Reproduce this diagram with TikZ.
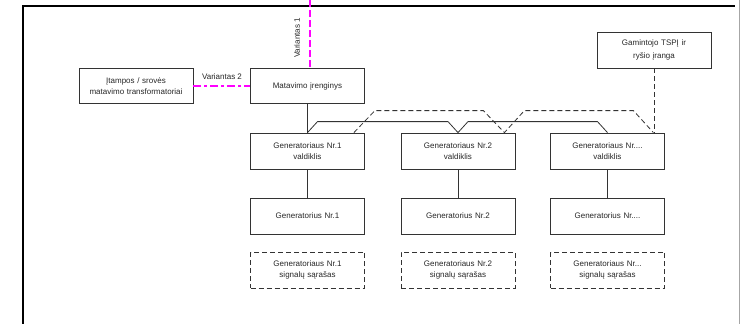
\documentclass[tikz,border=0pt]{standalone}
\usepackage{fontspec}
\setmainfont{Liberation Sans}
\usetikzlibrary{calc}
\definecolor{ln}{HTML}{333333}
\definecolor{mag}{HTML}{FF00FF}
\tikzset{
  box/.style={draw=ln, line width=0.8pt, rectangle, minimum width=114pt, minimum height=36pt, inner sep=0pt, text width=110pt, align=center, font=\fontsize{8}{11}\selectfont, text=black!85},
  dbox/.style={box, dash pattern=on 5pt off 3pt},
  conn/.style={draw=ln, line width=0.8pt},
  dconn/.style={conn, dash pattern=on 5pt off 3pt},
  lbl/.style={font=\fontsize{8}{11}\selectfont, text=black!85, inner sep=0pt},
  magline/.style={draw=mag, line width=1.3pt},
}
\begin{document}
\begin{tikzpicture}[x=1pt,y=-1pt]
\useasboundingbox (0,0) rectangle (740,324);
% frame
\draw[black, line width=1.2pt] (23,324) -- (23,6) -- (735,6);
\draw[black!35, line width=1pt] (739,0) -- (739,324);
% nodes
\node[box, minimum height=35pt] (it) at (136,86) {Įtampos / srovės\\matavimo transformatoriai};
\node[box, minimum height=35pt] (mt) at (307.5,86) {Matavimo įrenginys};
\node[box, font=\fontsize{8}{13.5}\selectfont] (gm) at (654,50) {Gamintojo TSPĮ ir\\ryšio įranga};
\node[box] (c1) at (307.5,151) {Generatoriaus Nr.1\\valdiklis};
\node[box] (c2) at (458,151) {Generatoriaus Nr.2\\valdiklis};
\node[box] (c3) at (607.5,151) {Generatoriaus Nr....\\valdiklis};
\node[box] (g1) at (307.5,216) {Generatorius Nr.1};
\node[box] (g2) at (458,216) {Generatorius Nr.2};
\node[box] (g3) at (607.5,216) {Generatorius Nr....};
\node[dbox] (s1) at (307.5,270) {Generatoriaus Nr.1\\signalų sąrašas};
\node[dbox] (s2) at (458,270) {Generatoriaus Nr.2\\signalų sąrašas};
\node[dbox] (s3) at (607.5,270) {Generatoriaus Nr...\\signalų sąrašas};
% magenta variants
\coordinate (topv) at (310,0);
\draw[magline, dash pattern=on 7pt off 3pt] (topv) -- (mt.north -| topv);
\node[lbl, rotate=90] (v1) at (297,38) {Variantas 1};
\draw[magline, dash pattern=on 8pt off 3pt on 3pt off 3pt] (it.east) -- (mt.west);
\node[lbl] (v2) at (222,77) {Variantas 2};
% solid connections
\draw[conn] (mt.south) -- (c1.north);
\draw[conn] (c1.south) -- (g1.north);
\draw[conn] (c2.south) -- (g2.north);
\draw[conn] (c3.south) -- (g3.north);
\draw[conn] (c1.north) -- ++(10,-11) -- ($(c2.north)+(-10,-11)$) -- (c2.north)
  -- ++(10,-11) -- ($(c3.north)+(-10,-11)$) -- (c3.north);
% dashed bus
\coordinate (d1) at ($(c1.north east)+(-11,0)$);
\coordinate (d2) at ($(c2.north east)+(-11,0)$);
\coordinate (d3) at ($(c3.north east)+(-11.5,0)$);
\draw[dconn] (d1) -- ++(21,-22) -- ($(d2)+(-21,-22)$) -- (d2)
  -- ++(20,-22) -- ($(d3)+(-20,-22)$) -- (d3);
\draw[dconn] (gm.south) -- (gm.south |- d3);
\end{tikzpicture}
\end{document}
